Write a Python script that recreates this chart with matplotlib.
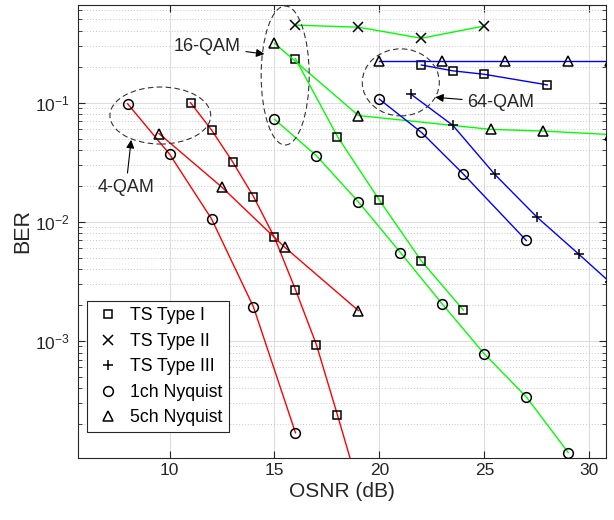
import matplotlib
matplotlib.use("Agg")
import matplotlib.pyplot as plt
from matplotlib.lines import Line2D
from matplotlib.patches import Ellipse
import numpy as np

plt.rcParams['font.family'] = ['Liberation Sans', 'DejaVu Sans']

# 4-QAM (red)
ts1_4_x = [11, 12, 13, 14, 15, 16, 17, 18, 19]
ts1_4_y = [0.1, 0.059, 0.032, 0.0163, 0.0074, 0.0027, 9.3e-4, 2.4e-4, 6e-5]
n1_4_x = [8, 10, 12, 14, 16]
n1_4_y = [0.098, 0.037, 0.0106, 0.00193, 1.7e-4]
n5_4_x = [9.5, 12.5, 15.5, 19]
n5_4_y = [0.055, 0.0195, 0.0061, 0.0018]

# 16-QAM (green)
ts1_16_x = [16, 18, 20, 22, 24]
ts1_16_y = [0.234, 0.052, 0.0152, 0.0047, 0.00182]
ts2_16_x = [16, 19, 22, 25]
ts2_16_y = [0.447, 0.43, 0.347, 0.44]
n1_16_x = [15, 17, 19, 21, 23, 25, 27, 29]
n1_16_y = [0.0725, 0.0359, 0.0147, 0.00553, 0.00204, 7.8e-4, 3.4e-4, 1.16e-4]
n5_16_x = [15, 19, 25.3, 27.8, 31]
n5_16_y = [0.315, 0.078, 0.0597, 0.0578, 0.054]

# 64-QAM (blue)
ts1_64_x = [22, 23.5, 25, 28]
ts1_64_y = [0.207, 0.185, 0.173, 0.141]
ts3_64_x = [21.5, 23.5, 25.5, 27.5, 29.5, 31]
ts3_64_y = [0.118, 0.0645, 0.025, 0.011, 0.00536, 0.0031]
n1_64_x = [20, 22, 24, 27]
n1_64_y = [0.107, 0.0564, 0.0252, 0.00698]
n5_64_x = [20, 23, 26, 29, 31]
n5_64_y = [0.222, 0.222, 0.222, 0.222, 0.222]

legend_labels = ['TS Type I', 'TS Type II', 'TS Type III', '1ch Nyquist', '5ch Nyquist']
markers = {'TS Type I': 's', 'TS Type II': 'x', 'TS Type III': '+',
           '1ch Nyquist': 'o', '5ch Nyquist': '^'}
msize = {'s': 5.5, 'x': 6.5, '+': 7, 'o': 7, '^': 7.5}

RED, GREEN, BLUE = '#ff0000', '#00ff00', '#0000ff'

fig = plt.figure(figsize=(6.14, 5.2), dpi=100)
ax = fig.add_axes([0.1275, 0.1198, 0.8595, 0.8706])


def curve(x, y, color, kind):
    m = markers[kind]
    ax.plot(x, y, color=color, lw=1.0, marker=m, ms=msize[m],
            mec='k', mfc='none', mew=1.1, zorder=3)


curve(ts1_4_x, ts1_4_y, RED, 'TS Type I')
curve(n1_4_x, n1_4_y, RED, '1ch Nyquist')
curve(n5_4_x, n5_4_y, RED, '5ch Nyquist')

curve(ts1_16_x, ts1_16_y, GREEN, 'TS Type I')
curve(ts2_16_x, ts2_16_y, GREEN, 'TS Type II')
curve(n1_16_x, n1_16_y, GREEN, '1ch Nyquist')
curve(n5_16_x, n5_16_y, GREEN, '5ch Nyquist')

curve(ts1_64_x, ts1_64_y, BLUE, 'TS Type I')
curve(ts3_64_x, ts3_64_y, BLUE, 'TS Type III')
curve(n1_64_x, n1_64_y, BLUE, '1ch Nyquist')
curve(n5_64_x, n5_64_y, BLUE, '5ch Nyquist')

ax.set_yscale('log')
ax.set_xlim(5.65, 30.8)
ax.set_ylim(1.05e-4, 0.66)
ax.set_xticks([10, 15, 20, 25, 30])
ax.xaxis.set_minor_locator(matplotlib.ticker.NullLocator())

ax.grid(True, which='major', color='#dedede', lw=0.8, ls='-')
ax.grid(True, which='minor', axis='y', color='#c8c8c8', lw=0.7, ls=(0, (1, 2)))
ax.set_axisbelow(True)

ax.tick_params(which='both', direction='in', top=True, right=True,
               color='#262626', labelsize=12.5, labelcolor='#262626')
ax.tick_params(which='major', length=5)
ax.tick_params(axis='y', pad=6)
ax.tick_params(which='minor', length=3)
for s in ax.spines.values():
    s.set_color('#262626')
    s.set_linewidth(0.8)

ax.set_xlabel('OSNR (dB)', fontsize=15, color='#262626', labelpad=3)
ax.set_ylabel('BER', fontsize=15.5, color='#262626', labelpad=1)

# legend with marker-only entries
handles = [Line2D([], [], ls='none', marker=markers[k], ms=msize[markers[k]],
                  mec='k', mfc='none', mew=1.1) for k in legend_labels]
leg = ax.legend(handles, legend_labels, loc='lower left',
                bbox_to_anchor=(0.017, 0.056), borderaxespad=0,
                fancybox=False, framealpha=1, edgecolor='#262626',
                fontsize=12.7, labelspacing=0.48, handletextpad=0.5,
                handlelength=1.6, borderpad=0.35)
leg.get_frame().set_linewidth(0.8)

# dashed ellipses round each modulation group (centre in data, size in axes fraction)
fig.canvas.draw()
to_axes = ax.transAxes.inverted()


def ring(xc, yc, w, h):
    cx, cy = to_axes.transform(ax.transData.transform((xc, yc)))
    ax.add_patch(Ellipse((cx, cy), w, h, transform=ax.transAxes, fill=False,
                         ls=(0, (5, 3)), lw=0.8, ec='#333333', zorder=4))


ring(9.56, 0.078, 0.191, 0.126)
ring(15.51, 0.169, 0.091, 0.307)
ring(21.02, 0.148, 0.146, 0.148)

arrow = dict(arrowstyle='-|>', color='k', lw=0.8, mutation_scale=12,
             shrinkA=2, shrinkB=0)
ax.annotate('4-QAM', xy=(8.17, 0.0487), xytext=(7.92, 0.0196), fontsize=13,
            ha='center', va='center', arrowprops=arrow, color='#262626')
ax.annotate('16-QAM', xy=(14.52, 0.256), xytext=(11.78, 0.296), fontsize=13,
            ha='center', va='center', arrowprops=arrow, color='#262626')
ax.annotate('64-QAM', xy=(22.66, 0.111), xytext=(25.8, 0.1), fontsize=13,
            ha='center', va='center', arrowprops=arrow, color='#262626')

fig.savefig('out.png', dpi=100)
